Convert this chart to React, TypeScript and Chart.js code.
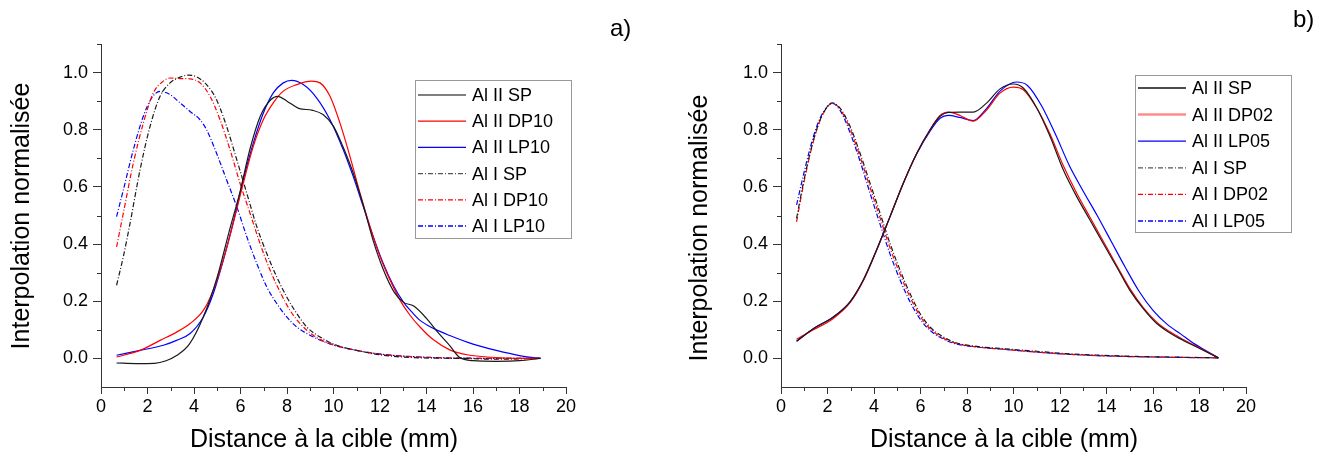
import React, { useEffect, useRef } from 'react';
import { Chart, registerables } from 'chart.js';

Chart.register(...registerables);

type P = [number, number][];

// ---------- Panel a) data ----------
const A_II_SP: P = [[0.67,-0.016],[1.5,-0.018],[2.3,-0.017],[2.8,-0.008],[3.25,0.01],[3.8,0.05],[4.4,0.145],[5.0,0.285],[5.5,0.44],[6.0,0.59],[6.4,0.73],[6.85,0.847],[7.3,0.905],[7.6,0.917],[8.0,0.9],[8.5,0.875],[9.1,0.868],[9.55,0.853],[10.0,0.812],[10.4,0.742],[10.85,0.648],[11.3,0.531],[11.7,0.414],[12.15,0.309],[12.6,0.233],[13.0,0.197],[13.45,0.183],[14.0,0.14],[14.5,0.09],[15.0,0.045],[15.4,0.005],[16.0,-0.008],[17.0,-0.01],[18.0,-0.008],[18.9,0.0]];
const A_II_DP10: P = [[0.67,0.005],[1.68,0.028],[2.54,0.063],[3.25,0.092],[3.83,0.122],[4.4,0.168],[4.83,0.239],[5.26,0.344],[5.69,0.473],[6.12,0.613],[6.55,0.742],[6.98,0.835],[7.41,0.894],[7.84,0.935],[8.42,0.958],[9.06,0.97],[9.42,0.964],[9.85,0.917],[10.28,0.823],[10.71,0.706],[11.14,0.578],[11.57,0.461],[12.0,0.356],[12.43,0.274],[12.86,0.204],[13.29,0.151],[13.72,0.11],[14.3,0.065],[15.0,0.03],[15.8,0.012],[16.8,0.004],[18.0,0.0],[18.9,0.0]];
const A_II_LP10: P = [[0.67,0.011],[1.68,0.028],[2.68,0.046],[3.25,0.063],[3.83,0.087],[4.4,0.145],[4.83,0.227],[5.26,0.344],[5.69,0.478],[6.12,0.625],[6.55,0.753],[6.98,0.858],[7.41,0.929],[7.84,0.964],[8.2,0.973],[8.7,0.958],[9.28,0.911],[9.85,0.835],[10.42,0.73],[10.85,0.636],[11.28,0.531],[11.71,0.426],[12.14,0.332],[12.57,0.256],[13.0,0.198],[13.43,0.157],[13.72,0.133],[14.3,0.105],[15.0,0.08],[16.0,0.05],[17.0,0.028],[18.0,0.01],[18.9,0.0]];
const A_I_SP: P = [[0.67,0.256],[0.96,0.356],[1.25,0.473],[1.68,0.66],[2.11,0.812],[2.54,0.917],[2.97,0.964],[3.4,0.984],[3.76,0.991],[4.11,0.985],[4.54,0.958],[4.97,0.905],[5.4,0.812],[5.84,0.695],[6.27,0.578],[6.7,0.461],[7.13,0.367],[7.56,0.285],[7.99,0.215],[8.42,0.157],[8.85,0.11],[9.42,0.075],[10.14,0.046],[11.0,0.028],[12.14,0.011],[13.72,0.002],[15.5,0.0],[17.0,-0.003],[18.9,0.0]];
const A_I_DP10: P = [[0.67,0.39],[0.96,0.508],[1.39,0.683],[1.82,0.823],[2.25,0.929],[2.68,0.97],[2.97,0.981],[3.4,0.979],[3.83,0.978],[4.26,0.964],[4.69,0.917],[5.12,0.835],[5.55,0.73],[5.98,0.613],[6.41,0.508],[6.84,0.402],[7.27,0.309],[7.7,0.233],[8.13,0.168],[8.56,0.122],[9.13,0.081],[9.85,0.051],[11.0,0.028],[12.14,0.014],[13.72,0.005],[15.5,0.001],[18.9,0.0]];
const A_I_LP10: P = [[0.67,0.496],[0.96,0.589],[1.39,0.73],[1.82,0.847],[2.18,0.911],[2.54,0.934],[2.97,0.923],[3.4,0.894],[3.83,0.864],[4.26,0.835],[4.54,0.8],[4.97,0.718],[5.4,0.625],[5.84,0.531],[6.27,0.426],[6.7,0.332],[7.13,0.25],[7.56,0.192],[7.99,0.145],[8.42,0.11],[8.99,0.081],[9.85,0.051],[11.0,0.028],[12.14,0.014],[13.72,0.005],[15.5,0.001],[18.9,0.0]];

// ---------- Panel b) data ----------
const B_II_SP: P = [[0.67,0.06],[1.39,0.104],[2.25,0.145],[2.97,0.198],[3.54,0.274],[4.11,0.379],[4.69,0.496],[5.26,0.613],[5.84,0.718],[6.41,0.8],[6.84,0.847],[7.2,0.861],[7.7,0.862],[8.27,0.862],[8.85,0.894],[9.42,0.943],[9.99,0.96],[10.42,0.946],[11.0,0.876],[11.57,0.777],[12.14,0.66],[12.72,0.566],[13.29,0.484],[13.86,0.402],[14.44,0.32],[15.0,0.239],[15.58,0.174],[16.16,0.122],[16.73,0.089],[17.3,0.063],[17.88,0.04],[18.81,0.002]];
const B_II_DP02: P = [[0.67,0.067],[1.39,0.1],[2.25,0.14],[2.97,0.195],[3.54,0.272],[4.11,0.378],[4.69,0.496],[5.26,0.613],[5.84,0.718],[6.41,0.8],[6.84,0.85],[7.2,0.862],[7.7,0.85],[8.27,0.83],[8.85,0.87],[9.42,0.928],[9.99,0.949],[10.42,0.94],[11.0,0.876],[11.57,0.785],[12.14,0.675],[12.72,0.578],[13.29,0.494],[13.86,0.41],[14.44,0.325],[15.0,0.245],[15.58,0.178],[16.16,0.127],[16.73,0.093],[17.3,0.066],[17.88,0.042],[18.81,0.002]];
const B_II_LP05: P = [[0.67,0.06],[1.39,0.104],[2.25,0.145],[2.97,0.198],[3.54,0.274],[4.11,0.379],[4.69,0.496],[5.26,0.613],[5.84,0.716],[6.41,0.795],[6.84,0.84],[7.2,0.85],[7.7,0.843],[8.27,0.832],[8.85,0.875],[9.42,0.935],[10.13,0.967],[10.6,0.955],[11.2,0.885],[11.8,0.785],[12.4,0.675],[13.0,0.585],[13.6,0.5],[14.2,0.41],[14.8,0.32],[15.4,0.235],[16.0,0.168],[16.6,0.12],[17.2,0.085],[17.8,0.05],[18.81,0.002]];
const B_I_SP: P = [[0.67,0.49],[0.96,0.613],[1.25,0.718],[1.53,0.8],[1.82,0.858],[2.21,0.894],[2.54,0.876],[2.97,0.812],[3.4,0.718],[3.83,0.613],[4.26,0.508],[4.69,0.402],[5.12,0.309],[5.55,0.227],[5.98,0.157],[6.41,0.11],[6.98,0.075],[7.56,0.054],[8.42,0.042],[9.56,0.034],[11.0,0.025],[12.43,0.016],[13.86,0.011],[15.3,0.007],[16.73,0.005],[18.81,0.002]];
const B_I_DP02: P = [[0.67,0.478],[0.96,0.605],[1.25,0.714],[1.53,0.798],[1.82,0.858],[2.21,0.893],[2.54,0.872],[2.97,0.803],[3.4,0.705],[3.83,0.598],[4.26,0.492],[4.69,0.386],[5.12,0.295],[5.55,0.215],[5.98,0.148],[6.41,0.104],[6.98,0.071],[7.56,0.052],[8.42,0.04],[9.56,0.032],[11.0,0.022],[12.43,0.014],[13.86,0.009],[15.3,0.006],[16.73,0.004],[18.81,0.002]];
const B_I_LP05: P = [[0.67,0.537],[0.96,0.64],[1.25,0.735],[1.53,0.81],[1.82,0.862],[2.21,0.892],[2.54,0.868],[2.97,0.79],[3.4,0.69],[3.83,0.578],[4.26,0.47],[4.69,0.365],[5.12,0.275],[5.55,0.198],[5.98,0.138],[6.41,0.098],[6.98,0.068],[7.56,0.05],[8.42,0.04],[9.56,0.032],[11.0,0.022],[12.43,0.014],[13.86,0.009],[15.3,0.006],[16.73,0.004],[18.81,0.002]];

const LABELS_A = ['Al II SP', 'Al II DP10', 'Al II LP10', 'Al I SP', 'Al I DP10', 'Al I LP10'];
const LABELS_B = ['Al II SP', 'Al II DP02', 'Al II LP05', 'Al I SP', 'Al I DP02', 'Al I LP05'];
const SERIES_A = [A_II_SP, A_II_DP10, A_II_LP10, A_I_SP, A_I_DP10, A_I_LP10];
const SERIES_B = [B_II_SP, B_II_DP02, B_II_LP05, B_I_SP, B_I_DP02, B_I_LP05];
const COLORS = ['#1a1a1a', '#ff0000', '#0000ff', '#1a1a1a', '#ff0000', '#0000ff'];
const DASHES = [[], [], [], [5, 2, 1, 2], [5, 2, 1, 2], [5, 2, 1, 2]];

const X_TITLE = 'Distance à la cible (mm)';
const Y_TITLE = 'Interpolation normalisée';
const X_MIN = 0, X_MAX = 20, Y_MIN = -0.1, Y_MAX = 1.1;

const FAMILY = '"Liberation Sans", Arial, sans-serif';
const AXIS = '#333333';

const decorPlugin = {
  id: 'decor',
  afterDraw(chart: any, _args: any, opts: any) {
    const { ctx, chartArea: ca, scales } = chart;
    const x = scales.x, y = scales.y;
    ctx.save();
    // minor ticks
    ctx.strokeStyle = AXIS;
    ctx.lineWidth = 1;
    ctx.setLineDash([]);
    ctx.beginPath();
    for (let v = 1; v < 20; v += 2) {
      const px = Math.round(x.getPixelForValue(v)) + 0.5;
      ctx.moveTo(px, ca.bottom);
      ctx.lineTo(px, ca.bottom + 4);
    }
    for (let i = 1; i <= 11; i += 2) {
      const py = Math.round(y.getPixelForValue(i / 10)) + 0.5;
      ctx.moveTo(ca.left, py);
      ctx.lineTo(ca.left - 4, py);
    }
    ctx.stroke();
    // axis titles
    const T = opts.titles;
    ctx.fillStyle = '#000';
    ctx.font = `${T.size}px ${FAMILY}`;
    ctx.textAlign = 'center';
    ctx.textBaseline = 'middle';
    ctx.fillText(X_TITLE, T.xcx, T.xcy);
    ctx.save();
    ctx.translate(T.ycx, T.ycy);
    ctx.rotate(-Math.PI / 2);
    ctx.fillText(Y_TITLE, 0, 0);
    ctx.restore();
    // legend
    const L = opts.legend;
    ctx.strokeStyle = '#999999';
    ctx.lineWidth = 1;
    ctx.strokeRect(L.box[0] + 0.5, L.box[1] + 0.5, L.box[2] - L.box[0], L.box[3] - L.box[1]);
    ctx.font = `18px ${FAMILY}`;
    ctx.textBaseline = 'middle';
    ctx.textAlign = 'left';
    const labels: string[] = opts.labels;
    labels.forEach((lab: string, i: number) => {
      const yy = L.y0 + i * L.step;
      ctx.save();
      ctx.strokeStyle = L.colors[i];
      ctx.lineWidth = L.widths[i];
      ctx.setLineDash(DASHES[i]);
      ctx.beginPath();
      ctx.moveTo(L.lx0, yy);
      ctx.lineTo(L.lx1, yy);
      ctx.stroke();
      ctx.restore();
      ctx.fillStyle = '#000';
      ctx.fillText(lab, L.tx, yy + 1);
    });
    // panel tag
    ctx.font = `24px ${FAMILY}`;
    ctx.fillStyle = '#000';
    ctx.textBaseline = 'middle';
    ctx.fillText(opts.tag.text, opts.tag.x, opts.tag.y);
    ctx.restore();
  },
};

type PanelProps = {
  series: P[];
  labels: string[];
  left: number;
  plotLeft: number;
  padRight: number;
  titles: any;
  legend: any;
  tag: any;
};

function Panel(props: PanelProps) {
  const ref = useRef<HTMLCanvasElement>(null);
  useEffect(() => {
    const canvas = ref.current!;
    const isMajorX = (v: number) => Math.round(v) % 2 === 0;
    const isMajorY = (v: number) => {
      const k = Math.round(v * 10);
      return k >= 0 && k <= 10 && k % 2 === 0;
    };
    const chart = new Chart(canvas, {
      type: 'line',
      data: {
        datasets: props.series.map((s, i) => ({
          label: props.labels[i],
          data: s.map(([x, y]) => ({ x, y })),
          borderColor: COLORS[i],
          borderWidth: 1.2,
          borderDash: DASHES[i],
          pointRadius: 0,
          fill: false,
          cubicInterpolationMode: 'monotone' as const,
        })),
      },
      options: {
        responsive: false,
        animation: false,
        events: [],
        layout: { padding: { top: 44, right: props.padRight, left: 0, bottom: 0 } },
        plugins: {
          legend: { display: false },
          tooltip: { enabled: false },
          decor: { legend: props.legend, tag: props.tag, labels: props.labels, titles: props.titles },
        } as any,
        scales: {
          x: {
            type: 'linear',
            min: X_MIN,
            max: X_MAX,
            ticks: {
              stepSize: 1,
              autoSkip: false,
              maxRotation: 0,
              padding: 2,
              color: '#000',
              font: { family: FAMILY, size: 18 },
              callback: (v: any) => (isMajorX(Number(v)) ? String(Math.round(Number(v))) : ''),
            },
            grid: {
              display: true,
              drawOnChartArea: false,
              drawTicks: true,
              tickLength: 7,
              tickColor: (c: any) => (c.tick && isMajorX(c.tick.value) ? AXIS : 'rgba(0,0,0,0)'),
            },
            border: { display: true, color: AXIS, width: 1 },
            title: { display: false, text: X_TITLE },
            afterFit: (s: any) => {
              s.height = 76;
            },
          },
          y: {
            type: 'linear',
            min: Y_MIN,
            max: Y_MAX,
            ticks: {
              stepSize: 0.1,
              autoSkip: false,
              padding: 5,
              color: '#000',
              font: { family: FAMILY, size: 18 },
              callback: (v: any) => (isMajorY(Number(v)) ? Number(v).toFixed(1) : ''),
            },
            grid: {
              display: true,
              drawOnChartArea: false,
              drawTicks: true,
              tickLength: 8,
              tickColor: (c: any) => (c.tick && isMajorY(c.tick.value) ? AXIS : 'rgba(0,0,0,0)'),
            },
            border: { display: true, color: AXIS, width: 1 },
            title: { display: false, text: Y_TITLE },
            afterFit: (s: any) => {
              s.width = props.plotLeft;
            },
          },
        },
      } as any,
      plugins: [decorPlugin],
    });
    return () => chart.destroy();
  }, []);
  return (
    <canvas
      ref={ref}
      width={666}
      height={463}
      style={{ position: 'absolute', left: props.left, top: 0, width: 666, height: 463 }}
    />
  );
}

export default function App() {
  useEffect(() => {
    document.body.style.margin = '0';
    document.body.style.background = '#fff';
  }, []);
  return (
    <div style={{ position: 'relative', width: 1332, height: 463, background: '#fff' }}>
      <Panel
        series={SERIES_A}
        labels={LABELS_A}
        left={0}
        plotLeft={101}
        padRight={100}
        titles={{ size: 25, xcx: 324, xcy: 440, ycx: 22, ycy: 216 }}
        legend={{
          box: [415, 80, 571, 238], y0: 95, step: 26.2, lx0: 418, lx1: 466, tx: 472,
          colors: ['#555555', '#ff0000', '#0000ff', '#555555', '#ff0000', '#0000ff'],
          widths: [1.3, 1.3, 1.3, 1.3, 1.3, 1.3],
        }}
        tag={{ text: 'a)', x: 610, y: 29 }}
      />
      <Panel
        series={SERIES_B}
        labels={LABELS_B}
        left={666}
        plotLeft={115}
        padRight={86}
        titles={{ size: 25, xcx: 1004 - 666, xcy: 440, ycx: 700 - 666, ycy: 228 }}
        legend={{
          box: [469, 75, 625, 232], y0: 88, step: 26.6, lx0: 472, lx1: 520, tx: 526,
          colors: ['#111111', 'rgba(255,0,0,0.45)', '#0000ff', '#555555', '#ff0000', '#0000ff'],
          widths: [1.3, 2.5, 1.3, 1.3, 1.3, 1.3],
        }}
        tag={{ text: 'b)', x: 1293 - 666, y: 20 }}
      />
    </div>
  );
}
